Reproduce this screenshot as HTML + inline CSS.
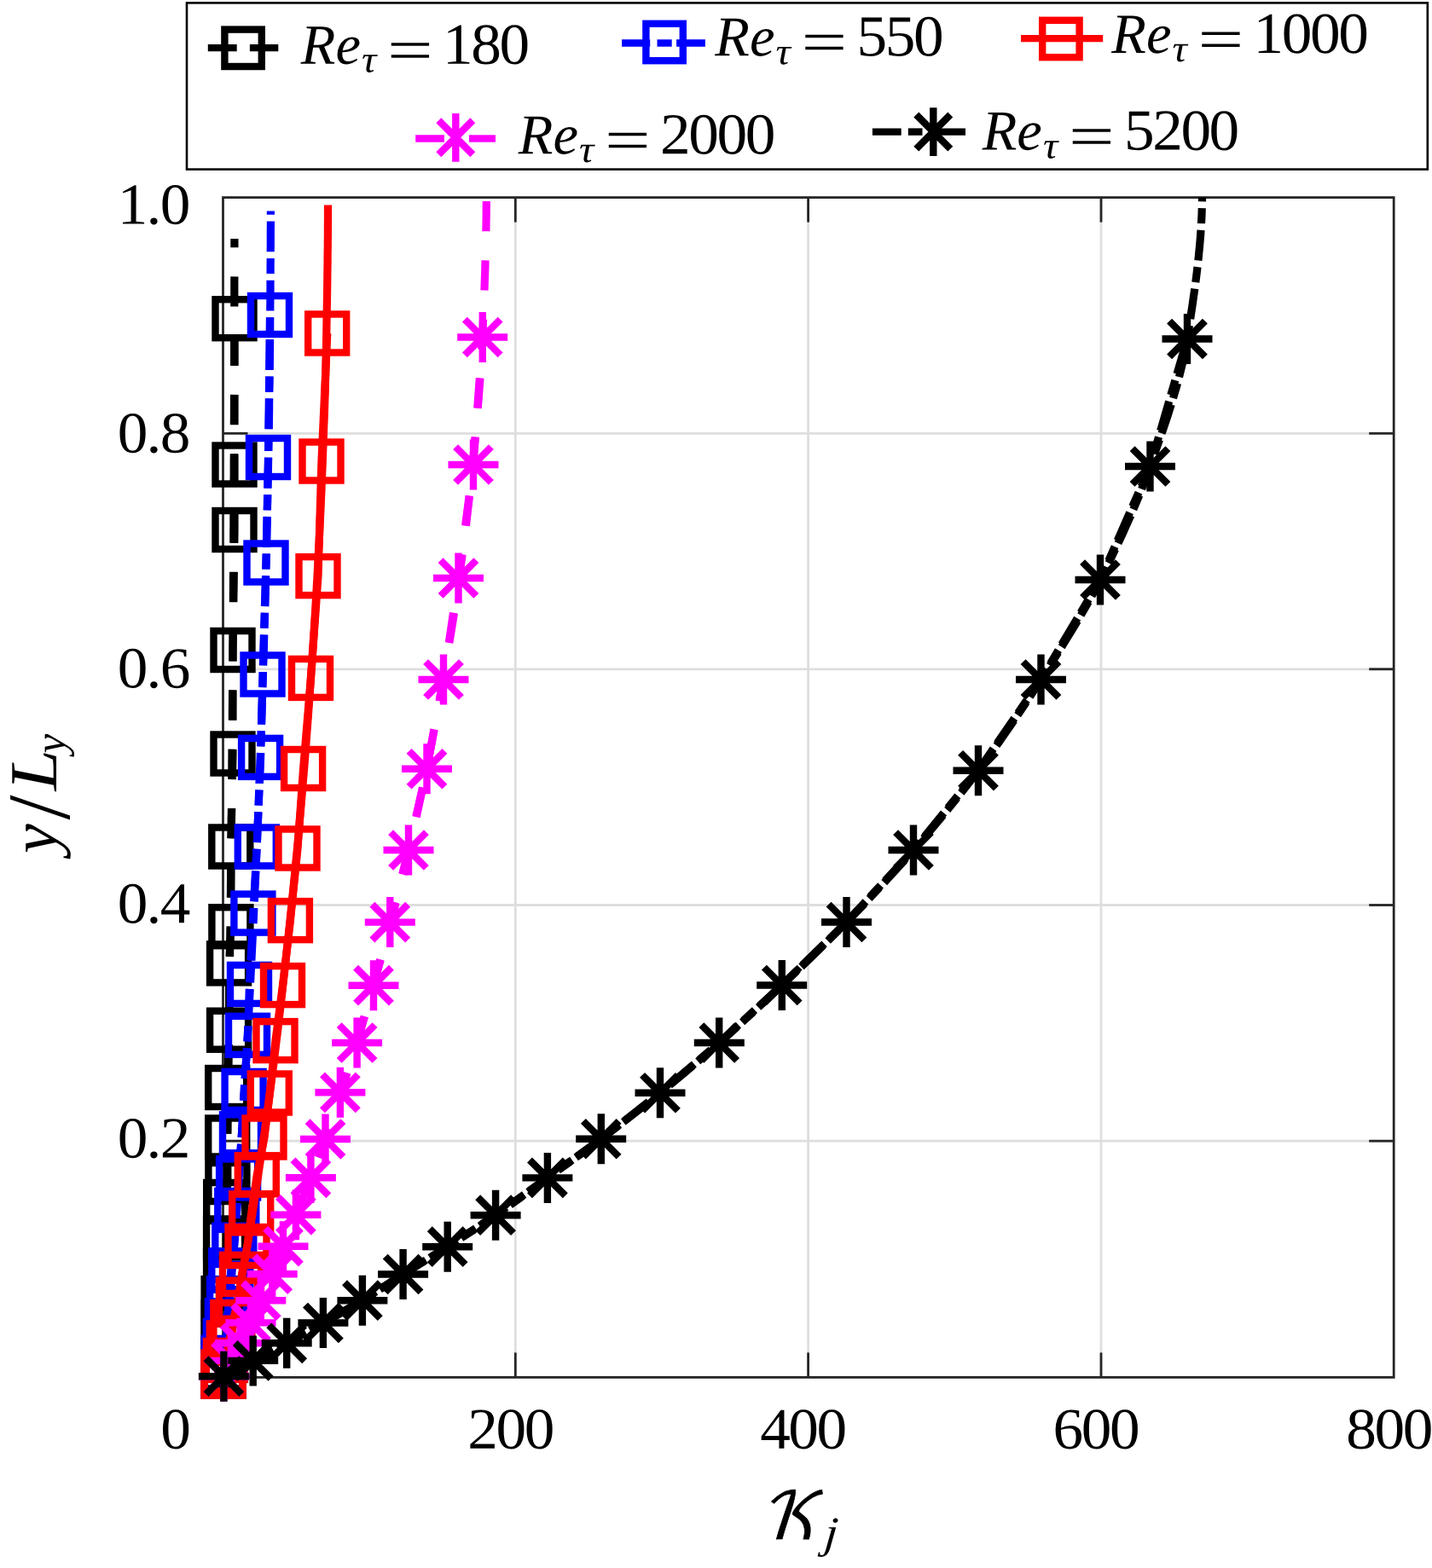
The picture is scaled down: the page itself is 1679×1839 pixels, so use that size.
<!DOCTYPE html>
<html lang="en"><head><meta charset="utf-8"><title>K_j versus y/L_y for several friction Reynolds numbers</title>
<style>
html,body{margin:0;padding:0;background:#fff;}
body{width:1679px;height:1839px;overflow:hidden;}
svg{display:block;}
text{font-family:"Liberation Serif","DejaVu Serif",serif;fill:#000;text-rendering:geometricPrecision;}
.it{font-style:italic;}
.cal{font-family:"DejaVu Math TeX Gyre","DejaVu Serif","Liberation Serif",serif;}
.ln{fill:none;stroke-width:9.2;stroke-linejoin:round;stroke-linecap:butt;}
.mk{fill:none;stroke-width:8.4;stroke-linejoin:miter;stroke-linecap:butt;}
</style></head><body>
<svg width="1679" height="1839" viewBox="0 0 1679 1839" role="img" aria-label="K_j versus y/L_y">
<rect x="0" y="0" width="1679" height="1839" fill="#fff"/>
<defs>
<clipPath id="axclip"><rect x="261.5" y="231.6" width="1372.7" height="1383.8000000000002"/></clipPath>
</defs>
<g id="grid" stroke="#dedede" stroke-width="2.8" fill="none">
<line x1="604.3" y1="231.6" x2="604.3" y2="1615.4"/>
<line x1="947.6" y1="231.6" x2="947.6" y2="1615.4"/>
<line x1="1291" y1="231.6" x2="1291" y2="1615.4"/>
<line x1="261.5" y1="1338.2" x2="1634.2" y2="1338.2"/>
<line x1="261.5" y1="1061.5" x2="1634.2" y2="1061.5"/>
<line x1="261.5" y1="784.8" x2="1634.2" y2="784.8"/>
<line x1="261.5" y1="508.3" x2="1634.2" y2="508.3"/>
</g>
<g id="axes" stroke="#262626" stroke-width="2.8" fill="none" stroke-linecap="butt">
<rect x="261.5" y="231.6" width="1372.7" height="1383.8"/>
<line x1="604.3" y1="1615.4" x2="604.3" y2="1586.4"/>
<line x1="604.3" y1="231.6" x2="604.3" y2="260.6"/>
<line x1="947.6" y1="1615.4" x2="947.6" y2="1586.4"/>
<line x1="947.6" y1="231.6" x2="947.6" y2="260.6"/>
<line x1="1291" y1="1615.4" x2="1291" y2="1586.4"/>
<line x1="1291" y1="231.6" x2="1291" y2="260.6"/>
<line x1="261.5" y1="1338.2" x2="290.5" y2="1338.2"/>
<line x1="1634.2" y1="1338.2" x2="1605.2" y2="1338.2"/>
<line x1="261.5" y1="1061.5" x2="290.5" y2="1061.5"/>
<line x1="1634.2" y1="1061.5" x2="1605.2" y2="1061.5"/>
<line x1="261.5" y1="784.8" x2="290.5" y2="784.8"/>
<line x1="1634.2" y1="784.8" x2="1605.2" y2="784.8"/>
<line x1="261.5" y1="508.3" x2="290.5" y2="508.3"/>
<line x1="1634.2" y1="508.3" x2="1605.2" y2="508.3"/>
</g>
<g id="re180" stroke="#000000">
<g clip-path="url(#axclip)">
<path class="ln" d="M261.5 1614.2 L261.6 1608.2 L261.8 1602.2 L261.9 1596.2 L262 1590.2 L262.2 1584.2 L262.3 1578.2 L262.4 1572.2 L262.6 1566.2 L262.7 1560.2 L262.8 1554.2 L262.9 1548.2 L263.1 1542.2 L263.2 1536.2 L263.3 1530.2 L263.4 1524.2 L263.5 1518.2 L263.7 1512.2 L263.8 1506.2 L263.9 1500.2 L264 1494.2 L264.1 1488.2 L264.2 1482.2 L264.3 1476.2 L264.4 1470.2 L264.5 1464.2 L264.7 1458.2 L264.8 1452.2 L264.9 1446.2 L265 1440.2 L265.1 1434.2 L265.2 1428.2 L265.3 1422.2 L265.4 1416.2 L265.5 1410.2 L265.6 1404.2 L265.7 1398.2 L265.8 1392.2 L265.9 1386.2 L266 1380.2 L266.1 1374.2 L266.2 1368.2 L266.3 1362.2 L266.4 1356.2 L266.5 1350.2 L266.6 1344.2 L266.6 1338.2 L266.7 1332.2 L266.8 1326.2 L266.9 1320.2 L267 1314.2 L267.1 1308.2 L267.2 1302.2 L267.3 1296.2 L267.4 1290.2 L267.5 1284.2 L267.5 1278.2 L267.6 1272.2 L267.7 1266.2 L267.8 1260.2 L267.9 1254.2 L268 1248.2 L268 1242.2 L268.1 1236.2 L268.2 1230.2 L268.3 1224.2 L268.4 1218.2 L268.4 1212.2 L268.5 1206.2 L268.6 1200.2 L268.7 1194.2 L268.8 1188.2 L268.8 1182.2 L268.9 1176.2 L269 1170.2 L269.1 1164.2 L269.1 1158.2 L269.2 1152.2 L269.3 1146.2 L269.4 1140.2 L269.4 1134.2 L269.5 1128.2 L269.6 1122.2 L269.6 1116.2 L269.7 1110.2 L269.8 1104.2 L269.9 1098.2 L269.9 1092.2 L270 1086.2 L270.1 1080.2 L270.1 1074.2 L270.2 1068.2 L270.3 1062.2 L270.3 1056.2 L270.4 1050.2 L270.5 1044.2 L270.5 1038.2 L270.6 1032.2 L270.7 1026.2 L270.7 1020.2 L270.8 1014.2 L270.9 1008.2 L270.9 1002.2 L271 996.2 L271 990.2 L271.1 984.2 L271.2 978.2 L271.2 972.2 L271.3 966.2 L271.3 960.2 L271.4 954.2 L271.5 948.2 L271.5 942.2 L271.6 936.2 L271.6 930.2 L271.7 924.2 L271.7 918.2 L271.8 912.2 L271.8 906.2 L271.9 900.2 L271.9 894.2 L272 888.2 L272 882.2 L272.1 876.2 L272.1 870.2 L272.2 864.2 L272.2 858.2 L272.3 852.2 L272.3 846.2 L272.4 840.2 L272.4 834.2 L272.5 828.2 L272.5 822.2 L272.6 816.2 L272.6 810.2 L272.7 804.2 L272.7 798.2 L272.8 792.2 L272.8 786.2 L272.8 780.2 L272.9 774.2 L272.9 768.2 L273 762.2 L273 756.2 L273.1 750.2 L273.1 744.2 L273.2 738.2 L273.2 732.2 L273.2 726.2 L273.3 720.2 L273.3 714.2 L273.4 708.2 L273.4 702.2 L273.4 696.2 L273.5 690.2 L273.5 684.2 L273.5 678.2 L273.6 672.2 L273.6 666.2 L273.6 660.2 L273.7 654.2 L273.7 648.2 L273.8 642.2 L273.8 636.2 L273.8 630.2 L273.8 624.2 L273.9 618.2 L273.9 612.2 L273.9 606.2 L274 600.2 L274 594.2 L274 588.2 L274.1 582.2 L274.1 576.2 L274.1 570.2 L274.1 564.2 L274.2 558.2 L274.2 552.2 L274.2 546.2 L274.2 540.2 L274.3 534.2 L274.3 528.2 L274.3 522.2 L274.3 516.2 L274.4 510.2 L274.4 504.2 L274.4 498.2 L274.4 492.2 L274.5 486.2 L274.5 480.2 L274.5 474.2 L274.5 468.2 L274.6 462.2 L274.6 456.2 L274.6 450.2 L274.6 444.2 L274.6 438.2 L274.6 432.2 L274.7 426.2 L274.7 420.2 L274.7 414.2 L274.7 408.2 L274.7 402.2 L274.7 396.2 L274.7 390.2 L274.8 384.2 L274.8 378.2 L274.8 372.2 L274.8 366.2 L274.8 360.2 L274.8 354.2 L274.8 348.2 L274.8 342.2 L274.8 336.2 L274.8 330.2 L274.9 324.2 L274.9 318.2 L274.9 312.2 L274.9 306.2 L274.9 300.2 L274.9 294.2 L274.9 288.2 L274.9 282.2 L274.9 280" stroke-dasharray="35.2 34.1" stroke-dashoffset="61.9"/>
<path class="ln" d="M262 1614.2 L262.1 1606 L262.2 1594 L262.2 1575 L262.2 1551 L262.1 1522.7 L264.6 1490 L264.6 1452 L264.8 1409.5 L266.9 1386.5 L266.7 1334 L266.7 1275.5 L268.6 1208.2 L268.6 1129.9 L270.9 1086.7 L270.8 993 L273 884 L273 762.5 L275 621.5 L275 545 L275 373.8" stroke-dasharray="35.2 34.1" stroke-dashoffset="61.9"/>
</g>
<g class="mk">
<rect x="239.5" y="1591.7" width="45" height="45"/>
<rect x="239.6" y="1583.5" width="45" height="45"/>
<rect x="239.7" y="1571.5" width="45" height="45"/>
<rect x="239.7" y="1552.5" width="45" height="45"/>
<rect x="239.7" y="1528.5" width="45" height="45"/>
<rect x="239.6" y="1500.2" width="45" height="45"/>
<rect x="242.1" y="1467.5" width="45" height="45"/>
<rect x="242.1" y="1429.5" width="45" height="45"/>
<rect x="242.2" y="1387" width="45" height="45"/>
<rect x="244.4" y="1364" width="45" height="45"/>
<rect x="244.2" y="1311.5" width="45" height="45"/>
<rect x="244.2" y="1253" width="45" height="45"/>
<rect x="246.1" y="1185.7" width="45" height="45"/>
<rect x="246.1" y="1107.4" width="45" height="45"/>
<rect x="248.4" y="1064.2" width="45" height="45"/>
<rect x="248.3" y="970.5" width="45" height="45"/>
<rect x="250.5" y="861.5" width="45" height="45"/>
<rect x="250.5" y="740" width="45" height="45"/>
<rect x="252.5" y="599" width="45" height="45"/>
<rect x="252.5" y="522.5" width="45" height="45"/>
<rect x="252.5" y="351.2" width="45" height="45"/>
</g>
</g>
<g id="re550" stroke="#0000ff">
<g clip-path="url(#axclip)">
<path class="ln" d="M261.5 1614 L262.1 1608 L262.6 1602 L263.2 1596 L263.8 1590 L264.3 1584 L264.9 1578 L265.4 1572 L266 1566 L266.5 1560 L267 1554 L267.5 1548 L268 1542 L268.6 1536 L269.1 1530 L269.6 1524 L270 1518 L270.5 1512 L270.9 1506 L271.4 1500 L271.8 1494 L272.3 1488 L272.8 1482 L273.2 1476 L273.7 1470 L274.2 1464 L274.6 1458 L275.1 1452 L275.5 1446 L276 1440 L276.4 1434 L276.9 1428 L277.3 1422 L277.7 1416 L278.1 1410 L278.5 1404 L278.9 1398 L279.3 1392 L279.7 1386 L280.1 1380 L280.5 1374 L280.9 1368 L281.3 1362 L281.7 1356 L282.1 1350 L282.5 1344 L282.9 1338 L283.3 1332 L283.7 1326 L284.1 1320 L284.5 1314 L284.9 1308 L285.2 1302 L285.6 1296 L286 1290 L286.3 1284 L286.7 1278 L287 1272 L287.4 1266 L287.7 1260 L288.1 1254 L288.4 1248 L288.8 1242 L289.1 1236 L289.4 1230 L289.8 1224 L290.1 1218 L290.4 1212 L290.8 1206 L291.1 1200 L291.4 1194 L291.7 1188 L292 1182 L292.3 1176 L292.7 1170 L293 1164 L293.3 1158 L293.6 1152 L293.9 1146 L294.2 1140 L294.5 1134 L294.8 1128 L295.1 1122 L295.4 1116 L295.7 1110 L296 1104 L296.3 1098 L296.6 1092 L296.9 1086 L297.2 1080 L297.5 1074 L297.7 1068 L298 1062 L298.3 1056 L298.6 1050 L298.8 1044 L299.1 1038 L299.4 1032 L299.7 1026 L299.9 1020 L300.2 1014 L300.5 1008 L300.7 1002 L301 996 L301.2 990 L301.5 984 L301.7 978 L302 972 L302.2 966 L302.5 960 L302.7 954 L302.9 948 L303.2 942 L303.4 936 L303.6 930 L303.9 924 L304.1 918 L304.3 912 L304.5 906 L304.8 900 L305 894 L305.2 888 L305.4 882 L305.6 876 L305.8 870 L306 864 L306.2 858 L306.4 852 L306.6 846 L306.8 840 L307 834 L307.2 828 L307.4 822 L307.6 816 L307.8 810 L308 804 L308.2 798 L308.4 792 L308.5 786 L308.7 780 L308.9 774 L309.1 768 L309.3 762 L309.5 756 L309.6 750 L309.8 744 L310 738 L310.2 732 L310.4 726 L310.5 720 L310.7 714 L310.9 708 L311 702 L311.2 696 L311.3 690 L311.5 684 L311.6 678 L311.8 672 L311.9 666 L312.1 660 L312.2 654 L312.4 648 L312.5 642 L312.6 636 L312.8 630 L312.9 624 L313 618 L313.2 612 L313.3 606 L313.4 600 L313.5 594 L313.7 588 L313.8 582 L313.9 576 L314 570 L314.1 564 L314.2 558 L314.4 552 L314.5 546 L314.6 540 L314.7 534 L314.8 528 L314.9 522 L315 516 L315.1 510 L315.2 504 L315.3 498 L315.4 492 L315.5 486 L315.6 480 L315.6 474 L315.7 468 L315.8 462 L315.9 456 L316 450 L316.1 444 L316.1 438 L316.2 432 L316.3 426 L316.4 420 L316.4 414 L316.5 408 L316.5 402 L316.6 396 L316.6 390 L316.7 384 L316.7 378 L316.7 372 L316.8 366 L316.8 360 L316.9 354 L316.9 348 L317 342 L317 336 L317 330 L317.1 324 L317.1 318 L317.1 312 L317.2 306 L317.2 300 L317.2 294 L317.3 288 L317.3 282 L317.3 276 L317.3 270 L317.4 264 L317.4 258 L317.4 252 L317.4 247.5" stroke-dasharray="35.8 7.7 18.1 7.7" stroke-dashoffset="65.7"/>
<path class="ln" d="M262 1614 L262.1 1592.4 L264.3 1572.4 L266.4 1548.9 L268.6 1522.8 L270.8 1489.9 L274.8 1460.3 L277.8 1419.4 L279.6 1381.9 L283.5 1329.8 L286.1 1279.4 L290.5 1214.3 L292.5 1154.4 L296.9 1071.1 L301.2 993 L305.6 888.4 L308 791 L312 660 L314.5 536.5 L316.5 369.5" stroke-dasharray="35.8 7.7 18.1 7.7" stroke-dashoffset="65.7"/>
</g>
<g class="mk">
<rect x="239.5" y="1591.5" width="45" height="45"/>
<rect x="239.6" y="1569.9" width="45" height="45"/>
<rect x="241.8" y="1549.9" width="45" height="45"/>
<rect x="243.9" y="1526.4" width="45" height="45"/>
<rect x="246.1" y="1500.3" width="45" height="45"/>
<rect x="248.3" y="1467.4" width="45" height="45"/>
<rect x="252.3" y="1437.8" width="45" height="45"/>
<rect x="255.3" y="1396.9" width="45" height="45"/>
<rect x="257.1" y="1359.4" width="45" height="45"/>
<rect x="261" y="1307.3" width="45" height="45"/>
<rect x="263.6" y="1256.9" width="45" height="45"/>
<rect x="268" y="1191.8" width="45" height="45"/>
<rect x="270" y="1131.9" width="45" height="45"/>
<rect x="274.4" y="1048.6" width="45" height="45"/>
<rect x="278.8" y="970.5" width="45" height="45"/>
<rect x="283.1" y="865.9" width="45" height="45"/>
<rect x="285.5" y="768.5" width="45" height="45"/>
<rect x="289.5" y="637.5" width="45" height="45"/>
<rect x="292" y="514" width="45" height="45"/>
<rect x="294" y="347" width="45" height="45"/>
</g>
</g>
<g id="re1000" stroke="#ff0000">
<g clip-path="url(#axclip)">
<path class="ln" d="M261.4 1614.2 L262.7 1608.2 L264 1602.2 L265.2 1596.2 L266.5 1590.2 L267.7 1584.2 L268.9 1578.2 L270.1 1572.2 L271.3 1566.2 L272.4 1560.2 L273.6 1554.2 L274.7 1548.2 L275.9 1542.2 L277 1536.2 L278.1 1530.2 L279.2 1524.2 L280.2 1518.2 L281.2 1512.2 L282.2 1506.2 L283.2 1500.2 L284.2 1494.2 L285.2 1488.2 L286.3 1482.2 L287.3 1476.2 L288.3 1470.2 L289.4 1464.2 L290.4 1458.2 L291.4 1452.2 L292.4 1446.2 L293.4 1440.2 L294.3 1434.2 L295.3 1428.2 L296.2 1422.2 L297.1 1416.2 L298 1410.2 L298.9 1404.2 L299.8 1398.2 L300.7 1392.2 L301.6 1386.2 L302.5 1380.2 L303.3 1374.2 L304.2 1368.2 L305.1 1362.2 L306 1356.2 L306.9 1350.2 L307.8 1344.2 L308.7 1338.2 L309.5 1332.2 L310.4 1326.2 L311.2 1320.2 L312 1314.2 L312.9 1308.2 L313.7 1302.2 L314.5 1296.2 L315.3 1290.2 L316.1 1284.2 L316.9 1278.2 L317.7 1272.2 L318.5 1266.2 L319.2 1260.2 L320 1254.2 L320.8 1248.2 L321.5 1242.2 L322.2 1236.2 L323 1230.2 L323.7 1224.2 L324.4 1218.2 L325.2 1212.2 L325.9 1206.2 L326.6 1200.2 L327.3 1194.2 L328 1188.2 L328.7 1182.2 L329.4 1176.2 L330.1 1170.2 L330.8 1164.2 L331.4 1158.2 L332.1 1152.2 L332.8 1146.2 L333.5 1140.2 L334.1 1134.2 L334.8 1128.2 L335.5 1122.2 L336.1 1116.2 L336.8 1110.2 L337.4 1104.2 L338.1 1098.2 L338.7 1092.2 L339.4 1086.2 L340 1080.2 L340.6 1074.2 L341.2 1068.2 L341.9 1062.2 L342.5 1056.2 L343.1 1050.2 L343.7 1044.2 L344.3 1038.2 L344.9 1032.2 L345.5 1026.2 L346.1 1020.2 L346.6 1014.2 L347.2 1008.2 L347.8 1002.2 L348.4 996.2 L348.9 990.2 L349.5 984.2 L350 978.2 L350.6 972.2 L351.1 966.2 L351.6 960.2 L352.2 954.2 L352.7 948.2 L353.2 942.2 L353.7 936.2 L354.2 930.2 L354.7 924.2 L355.2 918.2 L355.7 912.2 L356.2 906.2 L356.7 900.2 L357.2 894.2 L357.7 888.2 L358.1 882.2 L358.6 876.2 L359 870.2 L359.5 864.2 L359.9 858.2 L360.4 852.2 L360.8 846.2 L361.3 840.2 L361.7 834.2 L362.1 828.2 L362.6 822.2 L363 816.2 L363.4 810.2 L363.8 804.2 L364.2 798.2 L364.6 792.2 L365 786.2 L365.5 780.2 L365.9 774.2 L366.3 768.2 L366.7 762.2 L367.1 756.2 L367.5 750.2 L367.9 744.2 L368.3 738.2 L368.6 732.2 L369 726.2 L369.4 720.2 L369.8 714.2 L370.1 708.2 L370.5 702.2 L370.8 696.2 L371.2 690.2 L371.5 684.2 L371.9 678.2 L372.2 672.2 L372.5 666.2 L372.8 660.2 L373.1 654.2 L373.4 648.2 L373.7 642.2 L374.1 636.2 L374.4 630.2 L374.7 624.2 L374.9 618.2 L375.2 612.2 L375.5 606.2 L375.8 600.2 L376.1 594.2 L376.3 588.2 L376.6 582.2 L376.9 576.2 L377.1 570.2 L377.4 564.2 L377.6 558.2 L377.8 552.2 L378.1 546.2 L378.3 540.2 L378.5 534.2 L378.7 528.2 L379 522.2 L379.2 516.2 L379.4 510.2 L379.6 504.2 L379.8 498.2 L380.1 492.2 L380.3 486.2 L380.5 480.2 L380.7 474.2 L380.9 468.2 L381.1 462.2 L381.3 456.2 L381.4 450.2 L381.6 444.2 L381.8 438.2 L381.9 432.2 L382.1 426.2 L382.2 420.2 L382.4 414.2 L382.5 408.2 L382.6 402.2 L382.7 396.2 L382.8 390.2 L382.9 384.2 L383 378.2 L383.1 372.2 L383.2 366.2 L383.3 360.2 L383.4 354.2 L383.5 348.2 L383.6 342.2 L383.7 336.2 L383.8 330.2 L383.8 324.2 L383.9 318.2 L384 312.2 L384.1 306.2 L384.1 300.2 L384.2 294.2 L384.3 288.2 L384.3 282.2 L384.4 276.2 L384.4 270.2 L384.4 264.2 L384.5 258.2 L384.5 252.2 L384.5 246.2 L384.6 240.5"/>
<path class="ln" d="M262 1614.2 L262 1609 L264.4 1595.5 L268.3 1575 L272.9 1550.6 L279.4 1524.2 L283.5 1494.4 L290 1461.6 L294.7 1422.9 L301.3 1377.8 L310 1334 L316.3 1282 L323 1220.6 L331.5 1155.6 L340.4 1079.6 L349 995 L355.6 901.5 L364.5 795.4 L373 675.6 L377 541 L383.8 391"/>
</g>
<g class="mk">
<rect x="239.5" y="1591.7" width="45" height="45"/>
<rect x="239.5" y="1586.5" width="45" height="45"/>
<rect x="241.9" y="1573" width="45" height="45"/>
<rect x="245.8" y="1552.5" width="45" height="45"/>
<rect x="250.4" y="1528.1" width="45" height="45"/>
<rect x="256.9" y="1501.7" width="45" height="45"/>
<rect x="261" y="1471.9" width="45" height="45"/>
<rect x="267.5" y="1439.1" width="45" height="45"/>
<rect x="272.2" y="1400.4" width="45" height="45"/>
<rect x="278.8" y="1355.3" width="45" height="45"/>
<rect x="287.5" y="1311.5" width="45" height="45"/>
<rect x="293.8" y="1259.5" width="45" height="45"/>
<rect x="300.5" y="1198.1" width="45" height="45"/>
<rect x="309" y="1133.1" width="45" height="45"/>
<rect x="317.9" y="1057.1" width="45" height="45"/>
<rect x="326.5" y="972.5" width="45" height="45"/>
<rect x="333.1" y="879" width="45" height="45"/>
<rect x="342" y="772.9" width="45" height="45"/>
<rect x="350.5" y="653.1" width="45" height="45"/>
<rect x="354.5" y="518.5" width="45" height="45"/>
<rect x="361.2" y="368.5" width="45" height="45"/>
</g>
</g>
<g id="re2000" stroke="#ff00ff">
<g clip-path="url(#axclip)">
<path class="ln" d="M261.3 1614.2 L264.5 1608.2 L267.7 1602.2 L270.8 1596.2 L273.9 1590.2 L277.1 1584.2 L280.1 1578.2 L283.1 1572.2 L286.1 1566.2 L288.9 1560.2 L291.8 1554.2 L294.7 1548.2 L297.5 1542.2 L300.4 1536.2 L303.2 1530.2 L305.9 1524.2 L308.5 1518.2 L311 1512.2 L313.4 1506.2 L315.9 1500.2 L318.4 1494.2 L321 1488.2 L323.6 1482.2 L326.3 1476.2 L328.9 1470.2 L331.5 1464.2 L334 1458.2 L336.5 1452.2 L339 1446.2 L341.5 1440.2 L343.9 1434.2 L346.3 1428.2 L348.6 1422.2 L350.9 1416.2 L353.2 1410.2 L355.4 1404.2 L357.6 1398.2 L359.8 1392.2 L362 1386.2 L364.3 1380.2 L366.5 1374.2 L368.8 1368.2 L371 1362.2 L373.2 1356.2 L375.5 1350.2 L377.7 1344.2 L379.9 1338.2 L382 1332.2 L384.1 1326.2 L386.2 1320.2 L388.3 1314.2 L390.4 1308.2 L392.5 1302.2 L394.5 1296.2 L396.5 1290.2 L398.6 1284.2 L400.5 1278.2 L402.5 1272.2 L404.4 1266.2 L406.4 1260.2 L408.3 1254.2 L410.2 1248.2 L412.1 1242.2 L413.9 1236.2 L415.8 1230.2 L417.6 1224.2 L419.4 1218.2 L421.3 1212.2 L423.1 1206.2 L424.8 1200.2 L426.6 1194.2 L428.4 1188.2 L430.1 1182.2 L431.8 1176.2 L433.6 1170.2 L435.3 1164.2 L437 1158.2 L438.7 1152.2 L440.4 1146.2 L442.1 1140.2 L443.8 1134.2 L445.5 1128.2 L447.1 1122.2 L448.8 1116.2 L450.4 1110.2 L452.1 1104.2 L453.7 1098.2 L455.3 1092.2 L456.9 1086.2 L458.5 1080.2 L460 1074.2 L461.6 1068.2 L463.2 1062.2 L464.7 1056.2 L466.2 1050.2 L467.8 1044.2 L469.3 1038.2 L470.8 1032.2 L472.2 1026.2 L473.7 1020.2 L475.2 1014.2 L476.6 1008.2 L478 1002.2 L479.4 996.2 L480.8 990.2 L482.2 984.2 L483.6 978.2 L485 972.2 L486.3 966.2 L487.7 960.2 L489 954.2 L490.3 948.2 L491.6 942.2 L492.9 936.2 L494.2 930.2 L495.5 924.2 L496.7 918.2 L498 912.2 L499.2 906.2 L500.4 900.2 L501.6 894.2 L502.8 888.2 L504 882.2 L505.1 876.2 L506.3 870.2 L507.4 864.2 L508.5 858.2 L509.6 852.2 L510.7 846.2 L511.8 840.2 L512.9 834.2 L514 828.2 L515.1 822.2 L516.1 816.2 L517.2 810.2 L518.2 804.2 L519.3 798.2 L520.3 792.2 L521.3 786.2 L522.4 780.2 L523.4 774.2 L524.4 768.2 L525.4 762.2 L526.4 756.2 L527.4 750.2 L528.4 744.2 L529.4 738.2 L530.4 732.2 L531.3 726.2 L532.3 720.2 L533.2 714.2 L534.1 708.2 L535 702.2 L535.9 696.2 L536.7 690.2 L537.6 684.2 L538.4 678.2 L539.2 672.2 L540 666.2 L540.8 660.2 L541.6 654.2 L542.4 648.2 L543.2 642.2 L543.9 636.2 L544.7 630.2 L545.4 624.2 L546.2 618.2 L546.9 612.2 L547.6 606.2 L548.3 600.2 L549 594.2 L549.7 588.2 L550.3 582.2 L551 576.2 L551.6 570.2 L552.2 564.2 L552.8 558.2 L553.4 552.2 L554 546.2 L554.5 540.2 L555.1 534.2 L555.7 528.2 L556.2 522.2 L556.8 516.2 L557.4 510.2 L557.9 504.2 L558.5 498.2 L559 492.2 L559.5 486.2 L560.1 480.2 L560.6 474.2 L561.1 468.2 L561.6 462.2 L562 456.2 L562.5 450.2 L562.9 444.2 L563.3 438.2 L563.7 432.2 L564.1 426.2 L564.5 420.2 L564.8 414.2 L565.1 408.2 L565.4 402.2 L565.7 396.2 L565.9 390.2 L566.2 384.2 L566.4 378.2 L566.7 372.2 L566.9 366.2 L567.1 360.2 L567.4 354.2 L567.6 348.2 L567.8 342.2 L568.1 336.2 L568.3 330.2 L568.5 324.2 L568.7 318.2 L568.9 312.2 L569 306.2 L569.2 300.2 L569.4 294.2 L569.5 288.2 L569.7 282.2 L569.8 276.2 L569.9 270.2 L570 264.2 L570.1 258.2 L570.2 252.2 L570.2 246.2 L570.3 240.2 L570.3 235.5" stroke-dasharray="35.2 34.1" stroke-dashoffset="66.3"/>
<path class="ln" d="M262.4 1614.2 L271 1595.9 L281.6 1575.3 L294 1551.4 L305.8 1525.2 L319.2 1494.2 L332 1461.7 L346.9 1424.8 L364.4 1381.3 L381.5 1336 L398.9 1281.3 L418.6 1223 L438 1155.7 L457.3 1081.6 L479 997 L500.5 901.8 L520 797 L537.5 678 L555 545 L565.8 395.5" stroke-dasharray="35.2 34.1" stroke-dashoffset="66.3"/>
</g>
<g class="mk">
<path d="M232.9 1614.2H291.9 M262.4 1584.7V1643.7 M241.5 1593.3L283.3 1635.1 M241.5 1635.1L283.3 1593.3"/>
<path d="M241.5 1595.9H300.5 M271 1566.4V1625.4 M250.1 1575L291.8 1616.8 M250.1 1616.8L291.8 1575"/>
<path d="M252.1 1575.3H311.1 M281.6 1545.8V1604.8 M260.7 1554.4L302.5 1596.2 M260.7 1596.2L302.5 1554.4"/>
<path d="M264.5 1551.4H323.5 M294 1521.9V1580.9 M273.1 1530.5L314.9 1572.3 M273.1 1572.3L314.9 1530.5"/>
<path d="M276.3 1525.2H335.3 M305.8 1495.7V1554.7 M284.9 1504.3L326.7 1546.1 M284.9 1546.1L326.7 1504.3"/>
<path d="M289.7 1494.2H348.7 M319.2 1464.7V1523.7 M298.3 1473.3L340.1 1515.1 M298.3 1515.1L340.1 1473.3"/>
<path d="M302.5 1461.7H361.5 M332 1432.2V1491.2 M311.1 1440.8L352.9 1482.6 M311.1 1482.6L352.9 1440.8"/>
<path d="M317.4 1424.8H376.4 M346.9 1395.3V1454.3 M326 1403.9L367.8 1445.7 M326 1445.7L367.8 1403.9"/>
<path d="M334.9 1381.3H393.9 M364.4 1351.8V1410.8 M343.5 1360.4L385.3 1402.2 M343.5 1402.2L385.3 1360.4"/>
<path d="M352 1336H411 M381.5 1306.5V1365.5 M360.6 1315.1L402.4 1356.9 M360.6 1356.9L402.4 1315.1"/>
<path d="M369.4 1281.3H428.4 M398.9 1251.8V1310.8 M378 1260.4L419.8 1302.2 M378 1302.2L419.8 1260.4"/>
<path d="M389.1 1223H448.1 M418.6 1193.5V1252.5 M397.7 1202.1L439.5 1243.9 M397.7 1243.9L439.5 1202.1"/>
<path d="M408.5 1155.7H467.5 M438 1126.2V1185.2 M417.1 1134.8L458.9 1176.6 M417.1 1176.6L458.9 1134.8"/>
<path d="M427.8 1081.6H486.8 M457.3 1052.1V1111.1 M436.4 1060.7L478.2 1102.5 M436.4 1102.5L478.2 1060.7"/>
<path d="M449.5 997H508.5 M479 967.5V1026.5 M458.1 976.1L499.9 1017.9 M458.1 1017.9L499.9 976.1"/>
<path d="M471 901.8H530 M500.5 872.2V931.2 M479.6 880.9L521.4 922.6 M479.6 922.6L521.4 880.9"/>
<path d="M490.5 797H549.5 M520 767.5V826.5 M499.1 776.1L540.9 817.9 M499.1 817.9L540.9 776.1"/>
<path d="M508 678H567 M537.5 648.5V707.5 M516.6 657.1L558.4 698.9 M516.6 698.9L558.4 657.1"/>
<path d="M525.5 545H584.5 M555 515.5V574.5 M534.1 524.1L575.9 565.9 M534.1 565.9L575.9 524.1"/>
<path d="M536.2 395.5H595.2 M565.8 366V425 M544.9 374.6L586.6 416.4 M544.9 416.4L586.6 374.6"/>
</g>
</g>
<g id="re5200" stroke="#000000">
<g clip-path="url(#axclip)">
<path class="ln" d="M260.9 1614.2 L272.7 1608.2 L284.5 1602.2 L296.1 1596.2 L307.8 1590.2 L319.4 1584.2 L330.8 1578.2 L341.9 1572.2 L352.8 1566.2 L363.5 1560.2 L374.1 1554.2 L384.8 1548.2 L395.5 1542.2 L406.1 1536.2 L416.5 1530.2 L426.5 1524.2 L436.1 1518.2 L445.4 1512.2 L454.6 1506.2 L463.7 1500.2 L473.1 1494.2 L482.7 1488.2 L492.4 1482.2 L502.2 1476.2 L512 1470.2 L521.5 1464.2 L531 1458.2 L540.3 1452.2 L549.6 1446.2 L558.8 1440.2 L567.8 1434.2 L576.7 1428.2 L585.4 1422.2 L594 1416.2 L602.4 1410.2 L610.7 1404.2 L618.9 1398.2 L627.1 1392.2 L635.3 1386.2 L643.6 1380.2 L651.9 1374.2 L660.2 1368.2 L668.6 1362.2 L676.9 1356.2 L685.2 1350.2 L693.4 1344.2 L701.5 1338.2 L709.5 1332.2 L717.4 1326.2 L725.2 1320.2 L733 1314.2 L740.8 1308.2 L748.4 1302.2 L756 1296.2 L763.5 1290.2 L771 1284.2 L778.4 1278.2 L785.7 1272.2 L792.9 1266.2 L800.1 1260.2 L807.2 1254.2 L814.2 1248.2 L821.2 1242.2 L828.2 1236.2 L835.1 1230.2 L841.9 1224.2 L848.7 1218.2 L855.4 1212.2 L862.1 1206.2 L868.7 1200.2 L875.3 1194.2 L881.8 1188.2 L888.3 1182.2 L894.7 1176.2 L901.2 1170.2 L907.5 1164.2 L913.9 1158.2 L920.2 1152.2 L926.5 1146.2 L932.8 1140.2 L939.1 1134.2 L945.4 1128.2 L951.6 1122.2 L957.7 1116.2 L963.9 1110.2 L969.9 1104.2 L976 1098.2 L982 1092.2 L987.9 1086.2 L993.8 1080.2 L999.6 1074.2 L1005.4 1068.2 L1011.2 1062.2 L1016.9 1056.2 L1022.6 1050.2 L1028.2 1044.2 L1033.8 1038.2 L1039.4 1032.2 L1044.9 1026.2 L1050.4 1020.2 L1055.8 1014.2 L1061.2 1008.2 L1066.5 1002.2 L1071.7 996.2 L1076.9 990.2 L1082.1 984.2 L1087.2 978.2 L1092.3 972.2 L1097.3 966.2 L1102.3 960.2 L1107.3 954.2 L1112.2 948.2 L1117.1 942.2 L1121.9 936.2 L1126.6 930.2 L1131.4 924.2 L1136 918.2 L1140.6 912.2 L1145.2 906.2 L1149.6 900.2 L1154.1 894.2 L1158.5 888.2 L1162.8 882.2 L1167.1 876.2 L1171.4 870.2 L1175.6 864.2 L1179.8 858.2 L1184 852.2 L1188.1 846.2 L1192.1 840.2 L1196.2 834.2 L1200.2 828.2 L1204.2 822.2 L1208.1 816.2 L1212 810.2 L1215.9 804.2 L1219.7 798.2 L1223.6 792.2 L1227.4 786.2 L1231.2 780.2 L1235 774.2 L1238.8 768.2 L1242.6 762.2 L1246.3 756.2 L1250 750.2 L1253.7 744.2 L1257.4 738.2 L1261 732.2 L1264.5 726.2 L1268 720.2 L1271.5 714.2 L1274.9 708.2 L1278.2 702.2 L1281.5 696.2 L1284.7 690.2 L1287.9 684.2 L1290.9 678.2 L1293.9 672.2 L1296.9 666.2 L1299.9 660.2 L1302.8 654.2 L1305.7 648.2 L1308.6 642.2 L1311.4 636.2 L1314.2 630.2 L1317 624.2 L1319.7 618.2 L1322.4 612.2 L1325.1 606.2 L1327.6 600.2 L1330.2 594.2 L1332.7 588.2 L1335.2 582.2 L1337.6 576.2 L1339.9 570.2 L1342.2 564.2 L1344.5 558.2 L1346.6 552.2 L1348.8 546.2 L1350.9 540.2 L1353 534.2 L1355.1 528.2 L1357.2 522.2 L1359.3 516.2 L1361.4 510.2 L1363.5 504.2 L1365.5 498.2 L1367.5 492.2 L1369.5 486.2 L1371.4 480.2 L1373.3 474.2 L1375.1 468.2 L1376.9 462.2 L1378.7 456.2 L1380.4 450.2 L1382 444.2 L1383.5 438.2 L1385 432.2 L1386.4 426.2 L1387.8 420.2 L1389 414.2 L1390.2 408.2 L1391.2 402.2 L1392.2 396.2 L1393.1 390.2 L1394.1 384.2 L1395 378.2 L1395.9 372.2 L1396.8 366.2 L1397.7 360.2 L1398.6 354.2 L1399.4 348.2 L1400.3 342.2 L1401.1 336.2 L1401.9 330.2 L1402.7 324.2 L1403.4 318.2 L1404.1 312.2 L1404.8 306.2 L1405.4 300.2 L1406 294.2 L1406.6 288.2 L1407.1 282.2 L1407.6 276.2 L1408 270.2 L1408.4 264.2 L1408.7 258.2 L1409 252.2 L1409.2 246.2 L1409.4 240.2 L1409.5 234.2 L1409.5 228.2 L1409.5 228" stroke-dasharray="35.8 7.7 18.1 7.7" stroke-dashoffset="66.3"/>
<path class="ln" d="M262.4 1614.2 L296.7 1595.9 L336.2 1575.3 L378.9 1551.5 L424.9 1525.2 L472.6 1494.5 L524.7 1462.2 L581.1 1425.2 L641.9 1381.4 L704.8 1335.8 L774 1281.8 L843.2 1223 L916.8 1155.5 L992.5 1081.5 L1071 997 L1147 903.8 L1220.5 797 L1290 680 L1348.5 547 L1392 397.5" stroke-dasharray="35.8 7.7 18.1 7.7" stroke-dashoffset="65.3"/>
</g>
<g class="mk">
<path d="M232.9 1614.2H291.9 M262.4 1584.7V1643.7 M241.5 1593.3L283.3 1635.1 M241.5 1635.1L283.3 1593.3"/>
<path d="M267.2 1595.9H326.2 M296.7 1566.4V1625.4 M275.8 1575L317.6 1616.8 M275.8 1616.8L317.6 1575"/>
<path d="M306.7 1575.3H365.7 M336.2 1545.8V1604.8 M315.3 1554.4L357.1 1596.2 M315.3 1596.2L357.1 1554.4"/>
<path d="M349.4 1551.5H408.4 M378.9 1522V1581 M358 1530.6L399.8 1572.4 M358 1572.4L399.8 1530.6"/>
<path d="M395.4 1525.2H454.4 M424.9 1495.7V1554.7 M404 1504.3L445.8 1546.1 M404 1546.1L445.8 1504.3"/>
<path d="M443.1 1494.5H502.1 M472.6 1465V1524 M451.7 1473.6L493.5 1515.4 M451.7 1515.4L493.5 1473.6"/>
<path d="M495.2 1462.2H554.2 M524.7 1432.7V1491.7 M503.8 1441.3L545.6 1483.1 M503.8 1483.1L545.6 1441.3"/>
<path d="M551.6 1425.2H610.6 M581.1 1395.7V1454.7 M560.2 1404.3L602 1446.1 M560.2 1446.1L602 1404.3"/>
<path d="M612.4 1381.4H671.4 M641.9 1351.9V1410.9 M621 1360.5L662.8 1402.3 M621 1402.3L662.8 1360.5"/>
<path d="M675.2 1335.8H734.2 M704.8 1306.2V1365.2 M683.9 1314.9L725.6 1356.6 M683.9 1356.6L725.6 1314.9"/>
<path d="M744.5 1281.8H803.5 M774 1252.2V1311.2 M753.1 1260.9L794.9 1302.6 M753.1 1302.6L794.9 1260.9"/>
<path d="M813.8 1223H872.8 M843.2 1193.5V1252.5 M822.4 1202.1L864.1 1243.9 M822.4 1243.9L864.1 1202.1"/>
<path d="M887.2 1155.5H946.2 M916.8 1126V1185 M895.9 1134.6L937.6 1176.4 M895.9 1176.4L937.6 1134.6"/>
<path d="M963 1081.5H1022 M992.5 1052V1111 M971.6 1060.6L1013.4 1102.4 M971.6 1102.4L1013.4 1060.6"/>
<path d="M1041.5 997H1100.5 M1071 967.5V1026.5 M1050.1 976.1L1091.9 1017.9 M1050.1 1017.9L1091.9 976.1"/>
<path d="M1117.5 903.8H1176.5 M1147 874.2V933.2 M1126.1 882.9L1167.9 924.6 M1126.1 924.6L1167.9 882.9"/>
<path d="M1191 797H1250 M1220.5 767.5V826.5 M1199.6 776.1L1241.4 817.9 M1199.6 817.9L1241.4 776.1"/>
<path d="M1260.5 680H1319.5 M1290 650.5V709.5 M1269.1 659.1L1310.9 700.9 M1269.1 700.9L1310.9 659.1"/>
<path d="M1319 547H1378 M1348.5 517.5V576.5 M1327.6 526.1L1369.4 567.9 M1327.6 567.9L1369.4 526.1"/>
<path d="M1362.5 397.5H1421.5 M1392 368V427 M1371.1 376.6L1412.9 418.4 M1371.1 418.4L1412.9 376.6"/>
</g>
</g>
<g id="ticklabels">
<text transform="translate(138.9 262.5) rotate(0.03) scale(1.04 1)" x="-1.14 31.43 47.07" font-size="68.5">1.0</text>
<text transform="translate(138.9 530.4) rotate(0.03) scale(1.04 1)" x="-1.14 31.43 47.07" font-size="68.5">0.8</text>
<text transform="translate(138.9 806.35) rotate(0.03) scale(1.04 1)" x="-1.14 31.43 47.07" font-size="68.5">0.6</text>
<text transform="translate(138.9 1082.2) rotate(0.03) scale(1.04 1)" x="-1.14 31.43 47.07" font-size="68.5">0.4</text>
<text transform="translate(138.9 1357.5) rotate(0.03) scale(1.04 1)" x="-1.14 31.43 47.07" font-size="68.5">0.2</text>
<text transform="translate(189.5 1698.8) rotate(0.03) scale(1.04 1)" x="-1.14" font-size="68.5">0</text>
<text transform="translate(549.4 1698.8) rotate(0.03) scale(1.04 1)" x="-1.14 30.82 62.78" font-size="68.5">200</text>
<text transform="translate(892.3 1698.8) rotate(0.03) scale(1.04 1)" x="-1.14 30.82 62.78" font-size="68.5">400</text>
<text transform="translate(1235.7 1698.8) rotate(0.03) scale(1.04 1)" x="-1.14 30.82 62.78" font-size="68.5">600</text>
<text transform="translate(1579.4 1698.8) rotate(0.03) scale(1.04 1)" x="-1.14 30.82 62.78" font-size="68.5">800</text>
</g>
<g id="ylabel" transform="translate(65.6 1002) rotate(-90)">
<text class="it" x="1.1" y="0" font-size="78">y</text>
<text x="40.6" y="15.4" font-size="104.6">/</text>
<text class="it" transform="translate(74.6 0) scale(1.1 1)" font-size="79">L</text>
<text class="it" x="118.4" y="10.8" font-size="51">y</text>
</g>
<g id="xlabel">
<text class="cal" transform="translate(893.8 1804.9) skewX(-6)" font-size="75.3" stroke="#000" stroke-width="0.8">&#x1D4A6;</text>
<text class="it" transform="translate(965.6 1814.9) rotate(0.03) skewX(-5) scale(1.08 1)" font-size="52">j</text>
</g>
<g id="legend">
<rect x="219" y="3.4" width="1454.8" height="195.2" fill="#fff" stroke="#000" stroke-width="2.6"/>
<line x1="243.8" y1="56.1" x2="277.7" y2="56.1" stroke="#000" stroke-width="8.4"/>
<line x1="292.9" y1="56.1" x2="326.3" y2="56.1" stroke="#000" stroke-width="8.4"/>
<rect x="263.4" y="34.6" width="43.4" height="43.4" fill="none" stroke="#000" stroke-width="8.4"/>
<text class="it" transform="translate(352.8 74.7) rotate(0.03)" font-size="66.5">Re</text>
<text class="it" transform="translate(424 84.6) rotate(0.03) scale(1.1 1)" font-size="44.1">&#964;</text>
<text transform="translate(454.06 82.25) rotate(0.03) scale(1.36 1)" font-size="70">=</text>
<text transform="translate(520.2 74.7) rotate(0.03) scale(1.04 1)" x="-1.14 30.82 62.78" font-size="68.5">180</text>
<line x1="729.1" y1="50.5" x2="762.2" y2="50.5" stroke="#0000ff" stroke-width="8.4"/>
<line x1="770.5" y1="50.5" x2="787.7" y2="50.5" stroke="#0000ff" stroke-width="8.4"/>
<line x1="793.1" y1="50.5" x2="826.9" y2="50.5" stroke="#0000ff" stroke-width="8.4"/>
<rect x="757.4" y="27.8" width="43.4" height="43.4" fill="none" stroke="#0000ff" stroke-width="8.4"/>
<text class="it" transform="translate(838.3 65.3) rotate(0.03)" font-size="66.5">Re</text>
<text class="it" transform="translate(909.5 75.2) rotate(0.03) scale(1.1 1)" font-size="44.1">&#964;</text>
<text transform="translate(939.56 72.85) rotate(0.03) scale(1.36 1)" font-size="70">=</text>
<text transform="translate(1005.7 65.3) rotate(0.03) scale(1.04 1)" x="-1.14 30.82 62.78" font-size="68.5">550</text>
<line x1="1197" y1="45.1" x2="1293.2" y2="45.1" stroke="#ff0000" stroke-width="8.4"/>
<rect x="1222.2" y="23.8" width="43.4" height="43.4" fill="none" stroke="#ff0000" stroke-width="8.4"/>
<text class="it" transform="translate(1303.3 62.05) rotate(0.03)" font-size="66.5">Re</text>
<text class="it" transform="translate(1374.5 71.95) rotate(0.03) scale(1.1 1)" font-size="44.1">&#964;</text>
<text transform="translate(1404.56 69.6) rotate(0.03) scale(1.36 1)" font-size="70">=</text>
<text transform="translate(1470.7 62.05) rotate(0.03) scale(1.04 1)" x="-1.14 30.82 62.78 94.74" font-size="68.5">1000</text>
<line x1="487.2" y1="162.5" x2="521" y2="162.5" stroke="#ff00ff" stroke-width="8.4"/>
<line x1="549.9" y1="162.5" x2="581" y2="162.5" stroke="#ff00ff" stroke-width="8.4"/>
<path d="M534.3 133V189.7 M514.3 141.3L554.3 181.3 M514.3 181.3L554.3 141.3" fill="none" stroke="#ff00ff" stroke-width="8.4"/>
<text class="it" transform="translate(607.8 180.2) rotate(0.03)" font-size="66.5">Re</text>
<text class="it" transform="translate(679 190.1) rotate(0.03) scale(1.1 1)" font-size="44.1">&#964;</text>
<text transform="translate(709.06 187.75) rotate(0.03) scale(1.36 1)" font-size="70">=</text>
<text transform="translate(775.2 180.2) rotate(0.03) scale(1.04 1)" x="-1.14 30.82 62.78 94.74" font-size="68.5">2000</text>
<line x1="1022.9" y1="154.6" x2="1056.7" y2="154.6" stroke="#000" stroke-width="8.4"/>
<line x1="1064.8" y1="154.6" x2="1081.5" y2="154.6" stroke="#000" stroke-width="8.4"/>
<line x1="1090" y1="154.6" x2="1132" y2="154.6" stroke="#000" stroke-width="8.4"/>
<path d="M1094.3 126.2V182.9 M1074.3 134.5L1114.3 174.6 M1074.3 174.6L1114.3 134.5" fill="none" stroke="#000" stroke-width="8.4"/>
<text class="it" transform="translate(1151.7 175.6) rotate(0.03)" font-size="66.5">Re</text>
<text class="it" transform="translate(1222.9 185.5) rotate(0.03) scale(1.1 1)" font-size="44.1">&#964;</text>
<text transform="translate(1252.96 183.15) rotate(0.03) scale(1.36 1)" font-size="70">=</text>
<text transform="translate(1319.1 175.6) rotate(0.03) scale(1.04 1)" x="-1.14 30.82 62.78 94.74" font-size="68.5">5200</text>
</g>
</svg>
</body></html>
